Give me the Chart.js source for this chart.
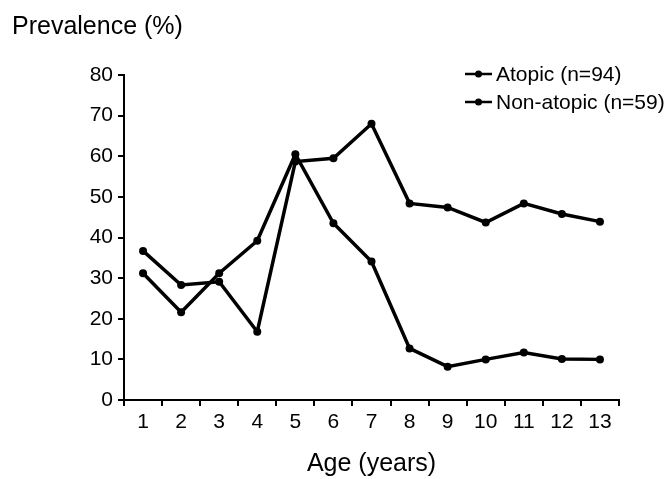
<!DOCTYPE html>
<html>
<head>
<meta charset="utf-8">
<script src="https://cdn.jsdelivr.net/npm/chart.js@4.4.1/dist/chart.umd.min.js"></script>
<style>
  html, body { margin: 0; padding: 0; background: #fff; }
  #wrap { width: 667px; height: 479px; position: relative; }
</style>
</head>
<body>
<div id="wrap"><canvas id="c"></canvas></div>
<script>
const ages = ['1','2','3','4','5','6','7','8','9','10','11','12','13'];
const atopic = [36.7, 28.3, 29.1, 16.8, 58.7, 59.5, 68.0, 48.4, 47.4, 43.7, 48.4, 45.8, 43.9];
const nonAtopic = [31.2, 21.6, 31.2, 39.2, 60.5, 43.5, 34.1, 12.7, 8.2, 10.0, 11.7, 10.1, 10.0];
const seriesLabels = ['Atopic (n=94)', 'Non-atopic (n=59)'];
const yTitle = 'Prevalence (%)';
const xTitle = 'Age (years)';

const FONT = "'Liberation Sans', Arial, sans-serif";

const lineLegend = {
  id: 'lineLegend',
  afterDraw(chart) {
    const ctx = chart.ctx;
    ctx.save();
    chart.data.datasets.forEach((ds, i) => {
      const y = 74 + i * 28;
      ctx.strokeStyle = '#000';
      ctx.lineWidth = 2.5;
      ctx.beginPath();
      ctx.moveTo(465, y);
      ctx.lineTo(492, y);
      ctx.stroke();
      ctx.fillStyle = '#000';
      ctx.beginPath();
      ctx.arc(478.5, y, 3.5, 0, Math.PI * 2);
      ctx.fill();
      ctx.font = '21px ' + FONT;
      ctx.textBaseline = 'middle';
      ctx.textAlign = 'left';
      ctx.fillText(ds.label, 496, y + 1);
    });
    ctx.restore();
  }
};

const mkDs = (label, data) => ({
  label, data,
  borderColor: '#000',
  backgroundColor: '#000',
  borderWidth: 3.5,
  pointRadius: 4,
  pointBackgroundColor: '#000',
  pointBorderWidth: 0,
  tension: 0,
  fill: false
});

new Chart(document.getElementById('c'), {
  type: 'line',
  data: {
    labels: ages,
    datasets: [mkDs(seriesLabels[0], atopic), mkDs(seriesLabels[1], nonAtopic)]
  },
  options: {
    responsive: true,
    maintainAspectRatio: false,
    animation: false,
    devicePixelRatio: 1,
    layout: { padding: { left: 12, right: 48, top: 0, bottom: 0 } },
    plugins: {
      legend: { display: false },
      tooltip: { enabled: false },
      title: {
        display: true,
        text: yTitle,
        align: 'start',
        color: '#000',
        font: { family: FONT, size: 25, weight: 'normal' },
        padding: { top: 12, bottom: 33 }
      }
    },
    scales: {
      x: {
        type: 'category',
        offset: true,
        grid: { offset: true, drawOnChartArea: false, drawTicks: true, tickLength: 6, color: '#000', lineWidth: 2 },
        border: { color: '#000', width: 2 },
        ticks: { color: '#000', font: { family: FONT, size: 21 }, padding: 4, maxRotation: 0, autoSkip: false },
        title: { display: true, text: xTitle, color: '#000', font: { family: FONT, size: 25 }, padding: { top: 0, bottom: 0 } },
        afterFit(scale) { scale.height = 79; }
      },
      y: {
        min: 0, max: 80,
        grid: { drawOnChartArea: false, drawTicks: true, tickLength: 6, color: '#000', lineWidth: 2 },
        border: { color: '#000', width: 2 },
        ticks: { stepSize: 10, color: '#000', font: { family: FONT, size: 21 }, padding: 5 },
        afterFit(scale) { scale.width = 112; }
      }
    }
  },
  plugins: [lineLegend]
});
</script>
</body>
</html>
